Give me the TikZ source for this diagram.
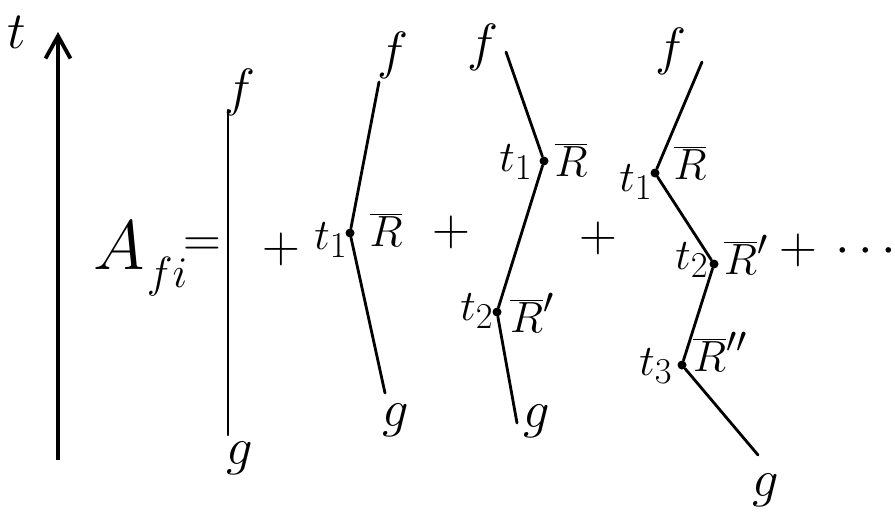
\documentclass[tikz,border=0pt]{standalone}
\usetikzlibrary{arrows.meta}
\begin{document}
\begin{tikzpicture}[
  x=0.02cm, y=-0.02cm,
  line/.style={line width=1.6pt, line cap=round},
  dot/.style={circle, fill=black, inner sep=0pt, minimum size=0.18cm},
  lbl/.style={font=\Huge, inner sep=1pt, scale=1.2, transform shape},
  vlbl/.style={font=\Huge, inner sep=1pt}
]
  \useasboundingbox (0,0) rectangle (895,531);
  % time axis
  \coordinate (tlow) at (58,460);
  \coordinate (thigh) at (58,32);
  \draw[line width=2.2pt, -{Straight Barb[length=0.45cm, width=0.5cm]}] (tlow) -- (thigh);
  \node[lbl] (tlab) at (17,32) {$t$};
  % amplitude
  \node[font=\Huge, scale=1.6, transform shape, inner sep=0pt] (amp) at (119,246) {$A$};
  \node[vlbl, inner sep=0pt] (ampsub) at (167,277) {$fi$};
  \node[lbl] (eq) at (202,247) {$=$};
  % zeroth order
  \coordinate (top1) at (228,110);
  \coordinate (bot1) at (228,435);
  \draw[line, line width=1.2pt] (bot1) -- (top1);
  \node[lbl] (f1) at (240,92) {$f$};
  \node[lbl] (g1) at (240,458) {$g$};
  \node[lbl] (plus1) at (281,249) {$+$};
  % first order
  \coordinate (top2) at (379,82);
  \node[dot] (v21) at (350,233) {};
  \coordinate (bot2) at (385,393);
  \draw[line] (top2) -- (v21) -- (bot2);
  \node[lbl] (f2) at (393,55) {$f$};
  \node[vlbl] (t21) at (331,240) {$t_1$};
  \node[vlbl] (r21) at (386,230) {$\overline{R}$};
  \node[lbl] (g2) at (396,420) {$g$};
  \node[lbl] (plus2) at (451,232) {$+$};
  % second order
  \coordinate (top3) at (506,52);
  \node[dot] (v31) at (544,161) {};
  \node[dot] (v32) at (497,312) {};
  \coordinate (bot3) at (517,423);
  \draw[line] (top3) -- (v31) -- (v32) -- (bot3);
  \node[lbl] (f3) at (483,47) {$f$};
  \node[vlbl] (t31) at (516,162) {$t_1$};
  \node[vlbl] (r31) at (571,160) {$\overline{R}$};
  \node[vlbl] (t32) at (477,311) {$t_2$};
  \node[vlbl] (r32) at (532,313) {$\overline{R}'$};
  \node[lbl] (g3) at (537,421) {$g$};
  \node[lbl] (plus3) at (598,238) {$+$};
  % third order
  \coordinate (top4) at (702,62);
  \node[dot] (v41) at (655,173) {};
  \node[dot] (v42) at (714,264) {};
  \node[dot] (v43) at (682,365) {};
  \coordinate (bot4) at (758,455);
  \draw[line] (top4) -- (v41) -- (v42) -- (v43) -- (bot4);
  \node[lbl] (f4) at (671,51) {$f$};
  \node[vlbl] (t41) at (636,182) {$t_1$};
  \node[vlbl] (r41) at (690,163) {$\overline{R}$};
  \node[vlbl] (t42) at (692,260) {$t_2$};
  \node[vlbl] (r42) at (746,255) {$\overline{R}'$};
  \node[vlbl] (t43) at (656,366) {$t_3$};
  \node[vlbl] (r43) at (720,352) {$\overline{R}''$};
  \node[lbl] (g4) at (766,490) {$g$};
  \node[lbl] (plus4) at (798,250) {$+$};
  \node[lbl] (more) at (866,252) {$\cdots$};
\end{tikzpicture}
\end{document}
